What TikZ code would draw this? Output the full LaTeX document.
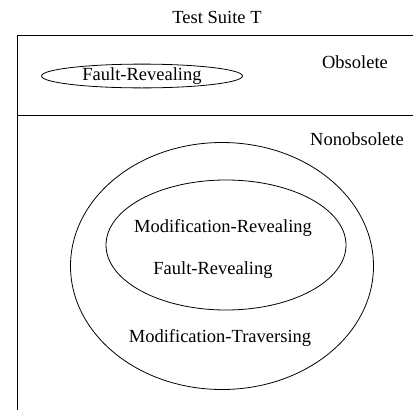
\documentclass[tikz,border=0pt]{standalone}
\usepackage{fontspec}
\setmainfont{Liberation Serif}
\usetikzlibrary{shapes.geometric}

\begin{document}
\begin{tikzpicture}[
    x=1pt, y=-1pt,
    every node/.style={font=\fontsize{18.5}{22}\selectfont, inner sep=0pt},
    set/.style={draw, ellipse, line width=0.8pt},
    frame/.style={line width=0.8pt}
]
\useasboundingbox (0,0) rectangle (413,410);

% Title and suite frame
\node (title) at (217,17) {Test Suite T};
\coordinate (tl) at (17,35);
\coordinate (tr) at (413,35);
\coordinate (ml) at (17,115);
\coordinate (mr) at (413,115);
\coordinate (bl) at (17,410);
\draw [frame] (tr) -- (tl) -- (bl);
\draw [frame] (ml) -- (mr);

% Obsolete part
\node (obsolete) at (355,62) {Obsolete};
\node (obsfault) [set, minimum width=201pt, minimum height=23pt] at (142,76) {Fault-Revealing};

% Nonobsolete part
\node (nonobsolete) at (357,139) {Nonobsolete};
\node (traversing) [set, minimum width=303pt, minimum height=247pt] at (222,266) {};
\node (revealing) [set, minimum width=240pt, minimum height=130pt] at (226,245) {};
\node (modrev) at (223,228) {Modification-Revealing};
\node (fault) at (213,270) {Fault-Revealing};
\node (modtrav) at (220,338) {Modification-Traversing};

\end{tikzpicture}
\end{document}
